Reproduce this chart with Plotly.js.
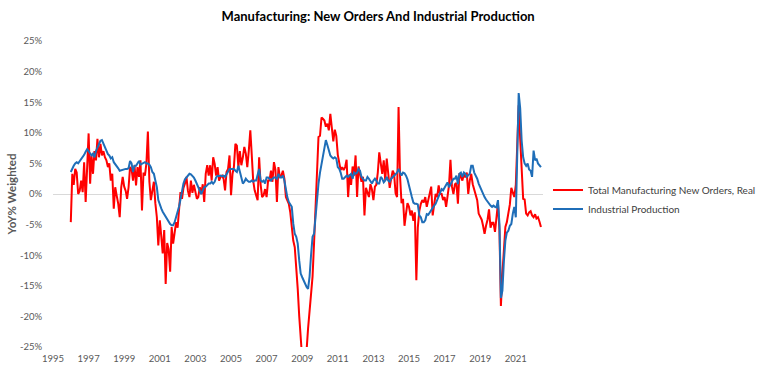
<!DOCTYPE html>
<html>
<head>
<meta charset="utf-8">
<script src="https://cdn.plot.ly/plotly-3.0.1.min.js"></script>
<style>html,body{margin:0;padding:0;background:#fff;}#chart{width:767px;height:374px;}</style>
</head>
<body>
<div id="chart"></div>
<script>
// Monthly series, starting January 1996
const startYear = 1996;
const newOrdersReal = [
  -4.6, 3.3, 1.5, 4.1, 3.5, 0.0, 0.5, 2.2, 0.3, 5.2, -1.3, 3.5,
  9.9, 1.7, 6.3, 3.3, 7.0, 5.5, 9.0, 6.0, 8.2, 6.3, 7.0, 6.0,
  5.5, 4.4, 5.0, 2.2, 3.3, -2.4, 1.1, -0.3, -1.6, -3.8, 1.1, 2.8,
  1.2, 0.5, -0.8, 1.1, 4.4, 4.1, 2.2, 4.7, 1.4, 4.4, 2.8, 5.5,
  -2.7, 3.5, 3.0, 5.0, 10.2, 2.0, -1.0, 0.5, 2.0, -1.5, -3.8, -8.4,
  -4.3, -7.0, -9.7, -5.9, -14.7, -8.0, -9.0, -12.7, -5.4, -8.1, -6.0, -4.6,
  -5.5, -2.7, 0.3, -0.8, 1.0, 1.7, 2.8, 0.5, -0.5, 2.2, 0.2, 1.5,
  0.2, -0.8, -0.5, 1.1, 0.0, 1.6, -1.3, 3.3, 4.7, 3.0, 4.7, 2.2,
  6.0, 4.9, 3.0, 4.4, 2.2, 2.8, 3.0, 2.5, 0.6, 3.6, 4.1, 6.3,
  -0.2, 3.3, 4.4, 8.2, 7.9, 4.4, 7.0, 4.7, 6.0, 7.7, 6.6, 4.4,
  7.1, 10.4, 6.6, 2.2, 0.6, -0.3, -1.0, 6.0, 1.5, -0.5, -0.2, 0.8,
  -0.5, 2.2, 2.2, 3.8, 2.0, 5.2, 4.0, -1.3, 4.4, 2.7, 3.0, 3.8,
  2.5, -0.5, -1.2, -1.6, -3.0, -5.2, -7.6, -8.7, -11.9, -15.5, -20.0, -24.5,
  -27.0, -27.0, -26.0, -25.5, -22.0, -19.5, -17.0, -13.5, -8.0, -2.5, 2.5, 9.3,
  9.5, 12.5, 12.3, 12.0, 11.0, 11.5, 10.4, 13.1, 10.8, 8.6, 10.5, 9.5,
  6.4, 5.0, 3.9, 4.4, 3.9, 4.4, 5.6, -0.5, 3.2, 1.5, 4.5, 3.0,
  6.3, -0.5, 4.5, 3.2, 2.0, 2.8, -3.5, 1.0, 0.0, -0.5, 1.6, 0.8,
  -1.0, 1.2, 1.5, 3.5, 6.8, 5.0, 3.3, 5.5, 2.2, 5.8, 2.8, 1.0,
  2.5, 3.8, 3.3, 0.1, -0.5, 14.2, 3.0, -1.5, -0.8, -5.2, -3.2, -1.5,
  -2.1, -3.5, -2.7, -4.4, -3.0, -14.1, -5.5, -2.8, -1.6, -1.0, -1.4, -0.5,
  -2.1, -1.0, 0.0, 1.2, -3.5, -1.5, 0.0, -0.5, 1.4, 0.0, 0.0, -1.0,
  -0.5, -2.1, 0.0, 1.4, 5.6, 1.2, 0.0, 1.6, 1.8, -1.6, 3.4, 2.6,
  2.2, 3.3, 2.7, 3.5, 0.0, 2.2, 3.3, 1.6, 0.8, -0.3, -1.0, -3.2,
  -3.8, -4.2, -5.2, -6.5, -5.2, -4.2, -2.5, -5.5, -4.7, -4.7, -6.2, -3.2,
  -1.5, -6.0, -18.3, -13.0, -8.7, -5.4, -4.6, -3.3, -1.7, 1.0, 0.4, -0.5,
  1.5, 10.0, 14.5, 9.0, 3.5, -0.8, -0.9, -3.2, -3.5, -3.0, -2.8, -3.5,
  -3.8, -3.3, -4.0, -3.8, -4.5, -5.4
];
const industrialProduction = [
  3.6, 4.2, 4.6, 5.0, 5.2, 5.0, 5.3, 5.7, 6.0, 6.4, 6.9, 7.3,
  7.0, 6.6, 6.3, 6.6, 6.0, 7.0, 7.6, 8.0, 8.7, 8.8, 8.3, 7.6,
  7.1, 6.5, 6.3, 5.8, 6.0, 5.2, 4.9, 4.7, 4.2, 3.8, 3.9, 3.9,
  4.1, 4.1, 4.1, 4.2, 5.4, 5.0, 3.6, 4.6, 4.6, 5.1, 5.4, 4.8,
  4.9, 5.0, 5.2, 5.0, 5.0, 4.8, 4.4, 3.6, 3.3, 2.2, 1.1, -1.0,
  -1.9, -2.4, -2.9, -3.3, -3.8, -4.3, -4.6, -4.9, -5.1, -5.1, -4.6, -3.8,
  -2.9, -2.0, -0.9, 0.6, 1.7, 2.4, 2.7, 2.9, 3.3, 3.2, 3.0, 2.7,
  2.2, 1.6, 1.1, 0.3, 0.0, 0.6, 1.1, 1.2, 1.4, 1.7, 1.7, 2.0,
  1.7, 2.0, 2.7, 3.0, 2.9, 3.0, 2.9, 3.0, 2.8, 3.3, 3.6, 4.1,
  4.1, 4.1, 4.1, 3.8, 3.6, 4.6, 3.6, 2.7, 1.7, 2.0, 2.5, 2.2,
  2.0, 2.0, 2.2, 2.0, 2.2, 2.2, 3.0, 4.1, 2.2, 2.0, 2.2, 1.7,
  2.7, 2.7, 2.5, 2.2, 2.5, 2.7, 2.7, 2.5, 3.3, 2.7, 2.7, 3.0,
  2.2, 0.6, -0.5, -1.3, -1.8, -2.1, -4.8, -6.5, -7.0, -8.1, -10.9, -13.0,
  -13.6, -14.2, -14.7, -15.2, -15.5, -13.5, -10.0, -7.0, -6.5, -3.5, -0.5, 1.7,
  3.5, 4.9, 6.6, 8.1, 8.8, 8.0, 7.2, 6.3, 6.0, 5.8, 6.0, 5.8,
  4.4, 4.1, 3.5, 2.5, 2.5, 2.8, 3.0, 2.8, 3.0, 3.3, 2.5, 3.5,
  3.3, 3.5, 4.1, 3.8, 2.8, 2.5, 2.2, 2.2, 2.8, 2.5, 2.0, 1.7,
  2.2, 2.5, 2.2, 1.7, 1.7, 2.8, 2.5, 1.9, 2.2, 2.8, 2.2, 2.0,
  2.5, 2.8, 3.0, 3.3, 3.5, 4.1, 3.5, 3.0, 3.5, 3.4, 3.0, 2.4,
  1.4, 0.6, -0.5, -1.4, -1.6, -1.6, -1.7, -3.5, -3.8, -4.6, -4.6, -4.3,
  -3.3, -3.4, -3.0, -2.5, -2.1, -1.9, -1.6, -1.0, -0.5, 0.0, 0.8, 0.6,
  1.1, 1.6, 1.9, 1.1, 1.6, 2.2, 2.5, 2.5, 3.0, 1.6, 3.3, 3.5,
  2.8, 3.5, 3.3, 2.8, 3.0, 3.3, 4.6, 4.6, 3.5, 3.0, 2.5, 1.7,
  1.1, 0.6, -0.2, -0.5, -0.9, -1.3, -1.5, -1.9, -2.1, -1.9, -2.1, -2.2,
  -1.0, -5.0, -17.0, -15.8, -11.0, -7.6, -6.3, -6.0, -5.2, -4.9, -3.2, -2.1,
  -3.8, 7.0, 16.5, 14.0, 8.7, 6.0, 5.0, 4.6, 5.0, 4.0, 3.8, 2.8,
  7.1, 5.5, 5.8, 5.0, 4.6, 4.4
];
const seriesNames = ['Total Manufacturing New Orders, Real', 'Industrial Production'];
const yTickValues = [-25, -20, -15, -10, -5, 0, 5, 10, 15, 20, 25];
const yTickLabels = ['-25%', '-20%', '-15%', '-10%', '-5%', '0%', '5%', '10%', '15%', '20%', '25%'];

function monthDates(n) {
  const out = [];
  for (let i = 0; i < n; i++) {
    const y = startYear + Math.floor(i / 12);
    const m = (i % 12) + 1;
    out.push(y + '-' + (m < 10 ? '0' + m : m) + '-01');
  }
  return out;
}

const traces = [
  {x: monthDates(newOrdersReal.length), y: newOrdersReal, name: seriesNames[0], type: 'scatter', mode: 'lines',
   line: {color: '#FF0000', width: 2}},
  {x: monthDates(industrialProduction.length), y: industrialProduction, name: seriesNames[1], type: 'scatter', mode: 'lines',
   line: {color: '#1F6EB8', width: 2}}
];

const tickFont = {family: 'Lato, sans-serif', size: 9.5, color: '#595959'};
const layout = {
  width: 767, height: 374,
  margin: {l: 53, r: 224, t: 41, b: 27, pad: 0, autoexpand: false},
  paper_bgcolor: '#ffffff', plot_bgcolor: '#ffffff',
  title: {text: 'Manufacturing: New Orders And Industrial Production', x: 0.493, xref: 'container', xanchor: 'center',
          y: 0.955, yref: 'container', yanchor: 'middle',
          font: {family: 'Lato, sans-serif', size: 13, color: '#000000', weight: 700}},
  xaxis: {type: 'date', range: ['1995-01-01', '2022-07-13'], tick0: '1995-01-01', dtick: 'M24', tickformat: '%Y',
          showgrid: false, zeroline: false, showline: false, ticks: 'outside', ticklen: 3, tickcolor: 'rgba(0,0,0,0)',
          tickfont: tickFont, fixedrange: true, automargin: false},
  yaxis: {range: [-25, 25], tickmode: 'array', tickvals: yTickValues, ticktext: yTickLabels,
          showgrid: false, zeroline: true, zerolinecolor: '#D9D9D9', zerolinewidth: 1, showline: false,
          ticks: 'outside', ticklen: 8, tickcolor: 'rgba(0,0,0,0)', tickfont: tickFont, automargin: false,
          title: {text: 'YoY% Weighted', standoff: 0, font: {family: 'Lato, sans-serif', size: 11.5, color: '#595959', weight: 700}},
          fixedrange: true},
  showlegend: true,
  legend: {x: 1.0102, xanchor: 'left', y: 0.482, yanchor: 'middle', bgcolor: 'rgba(0,0,0,0)',
           font: {family: 'Lato, sans-serif', size: 10, color: '#404040'}, itemwidth: 30, tracegroupgap: 0}
};

Plotly.newPlot('chart', traces, layout, {displayModeBar: false, staticPlot: true});
</script>
</body>
</html>
